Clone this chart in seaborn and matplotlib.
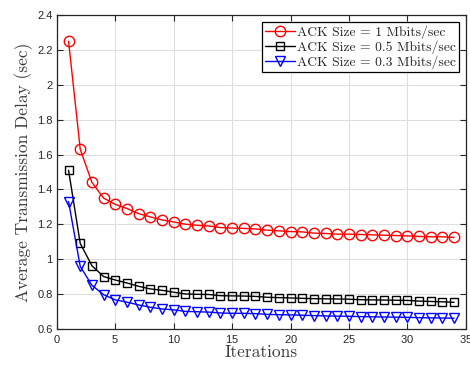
import matplotlib
matplotlib.use("Agg")
import matplotlib.pyplot as plt
import seaborn as sns

# iterations 1..34
iterations = list(range(1, 35))

# ACK size = 1 Mbits/sec
delay_1 = [2.25, 1.63, 1.44, 1.35, 1.314, 1.29, 1.261, 1.242, 1.225, 1.213,
           1.20, 1.194, 1.19, 1.181, 1.178, 1.176, 1.173, 1.166, 1.162, 1.158,
           1.156, 1.149, 1.147, 1.143, 1.143, 1.141, 1.139, 1.137, 1.135, 1.133,
           1.130, 1.128, 1.128, 1.124]

# ACK size = 0.5 Mbits/sec
delay_05 = [1.51, 1.09, 0.962, 0.90, 0.88, 0.863, 0.844, 0.829, 0.821, 0.81,
            0.80, 0.798, 0.797, 0.79, 0.789, 0.788, 0.786, 0.781, 0.779, 0.777,
            0.775, 0.773, 0.772, 0.771, 0.770, 0.767, 0.766, 0.765, 0.764, 0.763,
            0.759, 0.757, 0.755, 0.752]

# ACK size = 0.3 Mbits/sec
delay_03 = [1.33, 0.958, 0.85, 0.796, 0.766, 0.753, 0.737, 0.724, 0.714, 0.709,
            0.70, 0.698, 0.696, 0.691, 0.689, 0.689, 0.687, 0.683, 0.681, 0.68,
            0.678, 0.676, 0.674, 0.673, 0.672, 0.670, 0.669, 0.668, 0.667, 0.666,
            0.664, 0.663, 0.662, 0.661]

labels = ["ACK Size = 1 Mbits/sec", "ACK Size = 0.5 Mbits/sec", "ACK Size = 0.3 Mbits/sec"]

sns.set_style("whitegrid")
plt.rcParams["axes.formatter.use_mathtext"] = True

fig = plt.figure(figsize=(4.7, 3.67), dpi=100)
ax = fig.add_axes([0.121, 0.104, 0.870, 0.855])

styles = [(delay_1, "red", "o", 7.5), (delay_05, "black", "s", 5.5), (delay_03, "blue", "v", 7.5)]
for (vals, col, mk, ms), lab in zip(styles, labels):
    sns.lineplot(x=iterations, y=vals, color=col, marker=mk, markersize=ms,
                 markerfacecolor="none", markeredgecolor=col, markeredgewidth=1.0,
                 linewidth=1.0, label=lab, ax=ax)

ax.set_xlim(0, 35)
ax.set_ylim(0.6, 2.4)
ax.set_xticks(range(0, 36, 5))
ax.set_yticks([0.6, 0.8, 1, 1.2, 1.4, 1.6, 1.8, 2, 2.2, 2.4])
ax.set_yticklabels(["0.6", "0.8", "1", "1.2", "1.4", "1.6", "1.8", "2", "2.2", "2.4"])
for t in ax.get_xticklabels() + ax.get_yticklabels():
    t.set_fontfamily("Liberation Sans")
    t.set_fontsize(8)
    t.set_color("#262626")

ax.grid(True, color="#dedede", linewidth=0.8)
ax.tick_params(direction="in", length=4, width=0.8, top=True, right=True,
               bottom=True, left=True, colors="#262626", labelcolor="#262626", pad=3)
for sp in ax.spines.values():
    sp.set_edgecolor("#262626")
    sp.set_linewidth(0.9)

ax.set_xlabel("Iterations", fontfamily="cmr10", fontsize=12.5, color="#3a3a3a", labelpad=0)
ax.set_ylabel("Average Transmission Delay (sec)", fontfamily="cmr10", fontsize=12.5,
              color="#3a3a3a", labelpad=3)

leg = ax.legend(loc="upper right", prop={"family": "cmr10", "size": 9.8},
                frameon=True, fancybox=False, framealpha=1, edgecolor="black",
                borderpad=0.25, labelspacing=0.12, handlelength=2.2, handletextpad=0.1,
                borderaxespad=0.5)
leg.get_frame().set_linewidth(0.9)

fig.savefig("out.png", dpi=100)
